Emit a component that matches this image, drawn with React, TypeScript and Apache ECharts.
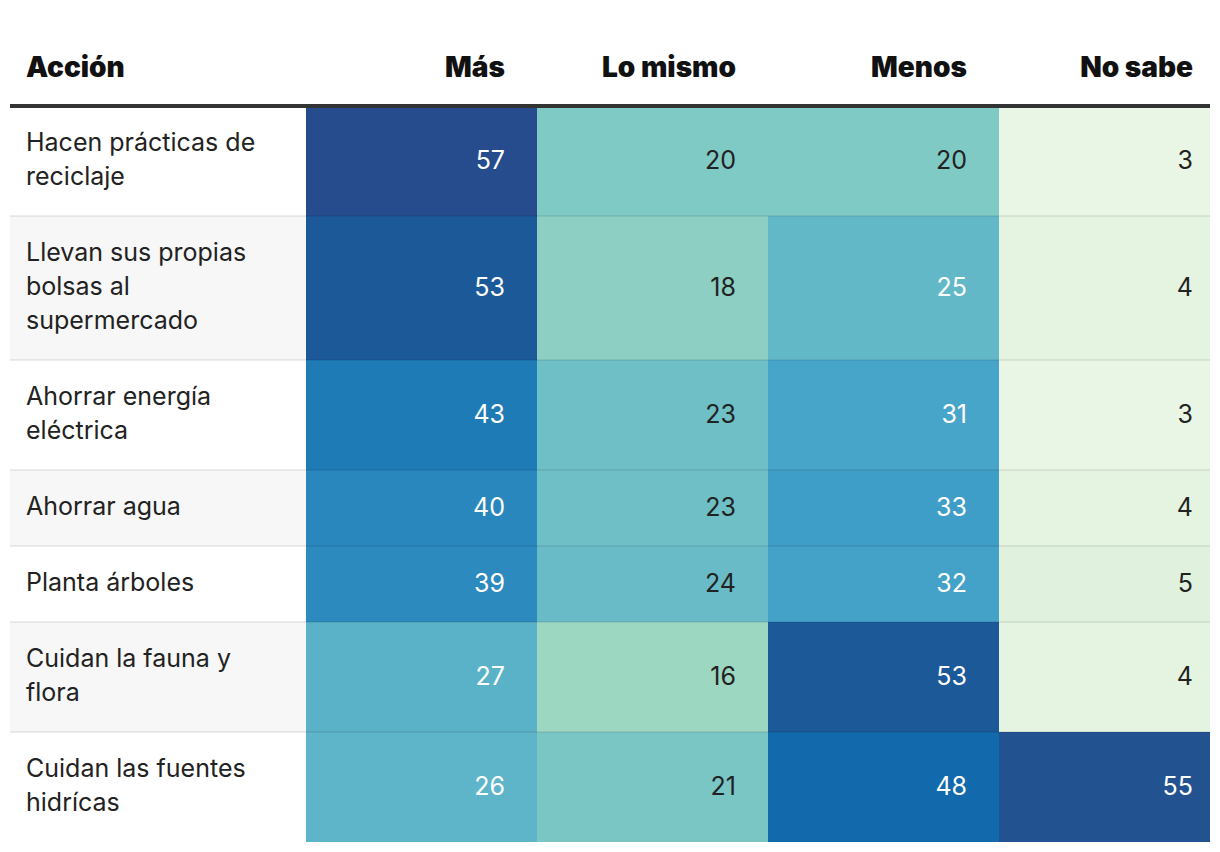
import { useEffect, useRef } from "react";
import * as echarts from "echarts";

// ---- data ----
const headerLabel = "Acción";
const actions = [
  "Hacen prácticas de\nreciclaje",
  "Llevan sus propias\nbolsas al\nsupermercado",
  "Ahorrar energía\neléctrica",
  "Ahorrar agua",
  "Planta árboles",
  "Cuidan la fauna y\nflora",
  "Cuidan las fuentes\nhidrícas",
];
const columns = ["Más", "Lo mismo", "Menos", "No sabe"];
const mas = [57, 53, 43, 40, 39, 27, 26];
const loMismo = [20, 18, 23, 23, 24, 16, 21];
const menos = [20, 25, 31, 33, 32, 53, 48];
const noSabe = [3, 4, 3, 4, 5, 4, 55];
const seriesValues = [mas, loMismo, menos, noSabe];

// colour scale stops (0..60, every 5)
const scaleColors = [
  "#f7fcf0", "#e0f2dd", "#c4e7cc", "#a3dac1", "#7fcac4", "#63b8c8", "#4ca9cb",
  "#3796c4", "#2987bd", "#1773b2", "#0f63a6", "#235291", "#2a4486",
];

// ---- layout ----
const W = 1220;
const H = 852;
const LEFT = 10;
const RIGHT = 1210;
const TOP = 106;
const LABEL_W = 296;
const colWidths = [231, 231, 231, 211];
const colPads = [32, 32, 32, 17];
const LINE_H = 34;
const ROW_BASE = 42;
const FONT = "Inter, 'Noto Sans', sans-serif";

const colEdges: number[] = [LABEL_W];
colWidths.forEach((w, i) => colEdges.push(colEdges[i] + w));
const rowEdges: number[] = [0];
actions.forEach((a, i) => {
  const lines = a.split("\n").length;
  rowEdges.push(rowEdges[i] + ROW_BASE + LINE_H * lines);
});
const TOTAL_H = rowEdges[rowEdges.length - 1];
const TOTAL_W = RIGHT - LEFT;

export default function App() {
  const ref = useRef<HTMLDivElement>(null);
  useEffect(() => {
    if (!ref.current) return;
    const chart = echarts.init(ref.current, undefined, { renderer: "svg" });

    const cellData: number[][] = [];
    seriesValues.forEach((vals, c) => vals.forEach((v, r) => cellData.push([c, r, v])));
    const rowData = actions.map((a, r) => [0, r]);
    const sepData = actions.slice(1).map((a, r) => [0, r + 1]);

    const option: any = {
      animation: false,
      backgroundColor: "#ffffff",
      grid: { left: LEFT, top: TOP, width: TOTAL_W, height: TOTAL_H },
      xAxis: { type: "value", min: 0, max: TOTAL_W, show: false },
      yAxis: { type: "value", min: 0, max: TOTAL_H, inverse: true, show: false },
      visualMap: {
        type: "continuous",
        show: false,
        min: 0,
        max: 60,
        dimension: 2,
        seriesIndex: 1,
        inRange: { color: scaleColors },
      },
      series: [
        {
          type: "custom",
          z: 1,
          data: rowData,
          silent: true,
          renderItem: (params: any, api: any) => {
            const r = api.value(1);
            const p0 = api.coord([0, rowEdges[r]]);
            const p1 = api.coord([LABEL_W, rowEdges[r + 1]]);
            return {
              type: "group",
              children: [
                {
                  type: "rect",
                  shape: { x: p0[0], y: p0[1], width: p1[0] - p0[0], height: p1[1] - p0[1] },
                  style: { fill: r % 2 === 1 ? "#f7f7f7" : "#ffffff" },
                },
                {
                  type: "text",
                  x: p0[0] + 16,
                  y: (p0[1] + p1[1]) / 2 - 2,
                  style: {
                    text: actions[r],
                    fill: "#222222",
                    font: `400 25px ${FONT}`,
                    lineHeight: LINE_H,
                    align: "left",
                    verticalAlign: "middle",
                  },
                },
              ],
            };
          },
        },
        {
          type: "custom",
          z: 2,
          data: cellData,
          silent: true,
          renderItem: (params: any, api: any) => {
            const c = api.value(0);
            const r = api.value(1);
            const v = api.value(2);
            const p0 = api.coord([colEdges[c], rowEdges[r]]);
            const p1 = api.coord([colEdges[c + 1], rowEdges[r + 1]]);
            return {
              type: "group",
              children: [
                {
                  type: "rect",
                  shape: { x: p0[0], y: p0[1], width: p1[0] - p0[0], height: p1[1] - p0[1] },
                  style: { fill: api.visual("color") },
                },
                {
                  type: "text",
                  x: p1[0] - colPads[c],
                  y: (p0[1] + p1[1]) / 2 - 1,
                  style: {
                    text: String(v),
                    fill: v >= 25 ? "#ffffff" : "#222222",
                    font: `400 25px ${FONT}`,
                    align: "right",
                    verticalAlign: "middle",
                  },
                },
              ],
            };
          },
        },
        {
          type: "custom",
          z: 3,
          data: sepData,
          silent: true,
          renderItem: (params: any, api: any) => {
            const r = api.value(1);
            const p0 = api.coord([0, rowEdges[r]]);
            const p1 = api.coord([TOTAL_W, rowEdges[r]]);
            return {
              type: "line",
              shape: { x1: p0[0], y1: p0[1], x2: p1[0], y2: p1[1] },
              style: { stroke: "rgba(0,0,0,0.07)", lineWidth: 2 },
            };
          },
        },
      ],
      graphic: [
        {
          type: "line",
          z: 100,
          shape: { x1: LEFT, y1: TOP, x2: RIGHT, y2: TOP },
          style: { stroke: "#333333", lineWidth: 4 },
        },
        {
          type: "text",
          z: 100,
          x: LEFT + 16,
          y: 67,
          style: {
            text: headerLabel,
            fill: "#111111",
            font: `900 28px ${FONT}`,
            align: "left",
            verticalAlign: "middle",
          },
        },
        ...columns.map((name, c) => ({
          type: "text",
          z: 100,
          x: LEFT + colEdges[c + 1] - colPads[c],
          y: 67,
          style: {
            text: name,
            fill: "#111111",
            font: `900 28px ${FONT}`,
            align: "right",
            verticalAlign: "middle",
          },
        })),
      ],
    };
    chart.setOption(option);
    return () => chart.dispose();
  }, []);
  return (
    <div
      ref={ref}
      style={{ position: "absolute", left: 0, top: 0, width: W, height: H }}
    />
  );
}
